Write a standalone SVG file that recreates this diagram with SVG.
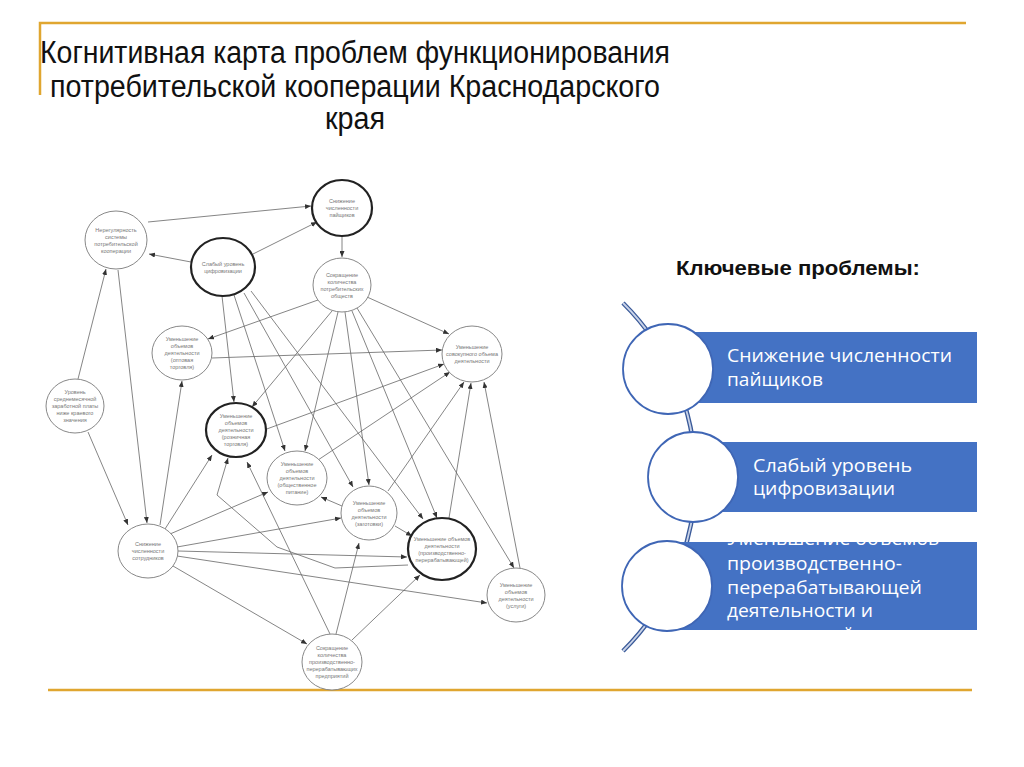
<svg xmlns="http://www.w3.org/2000/svg" width="1024" height="767" viewBox="0 0 1024 767">
<defs>
<marker id="ah" markerUnits="userSpaceOnUse" markerWidth="6" markerHeight="5" refX="6" refY="2.5" orient="auto">
<path d="M0,0 L6,2.5 L0,5 Z" fill="#333"/>
</marker>
<clipPath id="clip3"><rect x="667" y="542" width="310" height="88"/></clipPath>
</defs>
<style>
.nd{fill:#fff;stroke:#888;stroke-width:1}
.bd{fill:#fff;stroke:#222;stroke-width:2.2}
.nt{font-family:"Liberation Sans",Arial,sans-serif;font-size:5.5px;fill:#777;text-anchor:middle}
.ed{stroke:#666;stroke-width:0.8;fill:none;marker-end:url(#ah)}
.gold{stroke:#E0A630;stroke-width:2.5;fill:none}
.ttl{font-family:"Liberation Sans",Arial,sans-serif;font-size:31px;fill:#111}
.bx{fill:#4472C4}
.kc{fill:#fff;stroke:#3F66B5;stroke-width:1.8}
.kt{font-family:"Open Sans","Noto Sans",sans-serif;font-size:18px;fill:#fff}
</style>
<rect x="0" y="0" width="1024" height="767" fill="#fff"/>
<g id="frame">
<path class="gold" d="M40,95 L40,23 L966,23"/>
<path class="gold" d="M48,690 L972,690" stroke-width="2"/>
</g>
<g id="title">
<text class="ttl" x="40" y="63" textLength="630" lengthAdjust="spacingAndGlyphs">Когнитивная карта проблем функционирования</text>
<text class="ttl" x="50" y="97" textLength="610" lengthAdjust="spacingAndGlyphs">потребительской кооперации Краснодарского</text>
<text class="ttl" x="325" y="129" textLength="60" lengthAdjust="spacingAndGlyphs">края</text>
</g>
<g id="connectors">
<line class="ed" x1="148" y1="222" x2="311" y2="206"/>
<line class="ed" x1="191" y1="262" x2="149" y2="254"/>
<line class="ed" x1="253" y1="254" x2="317" y2="222"/>
<line class="ed" x1="342" y1="236" x2="342" y2="257"/>
<line class="ed" x1="78" y1="379" x2="106" y2="269"/>
<line class="ed" x1="118" y1="270" x2="147" y2="523"/>
<line class="ed" x1="88" y1="432" x2="128" y2="525"/>
<line class="ed" x1="222" y1="296" x2="234" y2="402"/>
<line class="ed" x1="234" y1="295" x2="285" y2="451"/>
<line class="ed" x1="244" y1="293" x2="353" y2="487"/>
<line class="ed" x1="251" y1="291" x2="423" y2="519"/>
<line class="ed" x1="318" y1="300" x2="208" y2="339"/>
<line class="ed" x1="367" y1="297" x2="449" y2="334"/>
<line class="ed" x1="332" y1="311" x2="252" y2="407"/>
<line class="ed" x1="338" y1="312" x2="305" y2="451"/>
<line class="ed" x1="345" y1="312" x2="369" y2="485"/>
<line class="ed" x1="352" y1="311" x2="437" y2="518"/>
<line class="ed" x1="357" y1="308" x2="514" y2="568"/>
<line class="ed" x1="212" y1="358" x2="442" y2="350"/>
<line class="ed" x1="264" y1="430" x2="444" y2="364"/>
<line class="ed" x1="318" y1="460" x2="450" y2="372"/>
<line class="ed" x1="388" y1="491" x2="464" y2="382"/>
<line class="ed" x1="449" y1="518" x2="471" y2="383"/>
<line class="ed" x1="520" y1="568" x2="484" y2="382"/>
<line class="ed" x1="160" y1="525" x2="182" y2="381"/>
<line class="ed" x1="165" y1="529" x2="212" y2="455"/>
<line class="ed" x1="170" y1="534" x2="268" y2="492"/>
<line class="ed" x1="177" y1="547" x2="341" y2="518"/>
<line class="ed" x1="178" y1="551" x2="407" y2="557"/>
<line class="ed" x1="177" y1="556" x2="487" y2="603"/>
<line class="ed" x1="173" y1="566" x2="307" y2="644"/>
<line class="ed" x1="330" y1="634" x2="247" y2="462"/>
<line class="ed" x1="336" y1="634" x2="359" y2="543"/>
<line class="ed" x1="352" y1="640" x2="420" y2="575"/>
<line class="ed" x1="342" y1="506" x2="321" y2="497"/>
<line class="ed" x1="395" y1="526" x2="412" y2="536"/>
<polyline class="ed" points="408,565 335,568 277,547 217,495 228,458"/>
</g>
<g id="n1"><ellipse class="nd" cx="116" cy="240" rx="31" ry="29"/><text class="nt"><tspan x="116" y="231.5">Нерегулярность</tspan><tspan x="116" y="238.5">системы</tspan><tspan x="116" y="245.5">потребительской</tspan><tspan x="116" y="252.5">кооперации</tspan></text></g>
<g id="n2"><ellipse class="bd" cx="342" cy="208" rx="30" ry="28"/><text class="nt"><tspan x="342" y="203">Снижение</tspan><tspan x="342" y="210">численности</tspan><tspan x="342" y="217">пайщиков</tspan></text></g>
<g id="n3"><ellipse class="bd" cx="223" cy="267" rx="32" ry="29"/><text class="nt"><tspan x="223" y="265.5">Слабый уровень</tspan><tspan x="223" y="272.5">цифровизации</tspan></text></g>
<g id="n4"><ellipse class="nd" cx="342" cy="285" rx="29" ry="27"/><text class="nt"><tspan x="342" y="276.5">Сокращение</tspan><tspan x="342" y="283.5">количества</tspan><tspan x="342" y="290.5">потребительских</tspan><tspan x="342" y="297.5">обществ</tspan></text></g>
<g id="n5"><ellipse class="nd" cx="472" cy="354" rx="30" ry="28"/><text class="nt"><tspan x="472" y="349">Уменьшение</tspan><tspan x="472" y="356">совокупного объема</tspan><tspan x="472" y="363">деятельности</tspan></text></g>
<g id="n6"><ellipse class="nd" cx="182" cy="353" rx="30" ry="27"/><text class="nt"><tspan x="182" y="341">Уменьшение</tspan><tspan x="182" y="348">объемов</tspan><tspan x="182" y="355">деятельности</tspan><tspan x="182" y="362">(оптовая</tspan><tspan x="182" y="369">торговля)</tspan></text></g>
<g id="n7"><ellipse class="nd" cx="75" cy="406" rx="29" ry="27"/><text class="nt"><tspan x="75" y="394">Уровень</tspan><tspan x="75" y="401">среднемесячной</tspan><tspan x="75" y="408">заработной платы</tspan><tspan x="75" y="415">ниже краевого</tspan><tspan x="75" y="422">значения</tspan></text></g>
<g id="n8"><ellipse class="bd" cx="236" cy="430" rx="30" ry="27"/><text class="nt"><tspan x="236" y="418">Уменьшение</tspan><tspan x="236" y="425">объемов</tspan><tspan x="236" y="432">деятельности</tspan><tspan x="236" y="439">(розничная</tspan><tspan x="236" y="446">торговля)</tspan></text></g>
<g id="n9"><ellipse class="nd" cx="297" cy="478" rx="30" ry="27"/><text class="nt"><tspan x="297" y="466">Уменьшение</tspan><tspan x="297" y="473">объемов</tspan><tspan x="297" y="480">деятельности</tspan><tspan x="297" y="487">(общественное</tspan><tspan x="297" y="494">питание)</tspan></text></g>
<g id="n10"><ellipse class="nd" cx="369" cy="513" rx="28" ry="27"/><text class="nt"><tspan x="369" y="504.5">Уменьшение</tspan><tspan x="369" y="511.5">объемов</tspan><tspan x="369" y="518.5">деятельности</tspan><tspan x="369" y="525.5">(заготовки)</tspan></text></g>
<g id="n11"><ellipse class="bd" cx="442" cy="549" rx="34" ry="31"/><text class="nt"><tspan x="442" y="540.5">Уменьшение объемов</tspan><tspan x="442" y="547.5">деятельности</tspan><tspan x="442" y="554.5">(производственно-</tspan><tspan x="442" y="561.5">перерабатывающей)</tspan></text></g>
<g id="n12"><ellipse class="nd" cx="516" cy="595" rx="29" ry="27"/><text class="nt"><tspan x="516" y="586.5">Уменьшение</tspan><tspan x="516" y="593.5">объемов</tspan><tspan x="516" y="600.5">деятельности</tspan><tspan x="516" y="607.5">(услуги)</tspan></text></g>
<g id="n13"><ellipse class="nd" cx="148" cy="551" rx="30" ry="27"/><text class="nt"><tspan x="148" y="546">Снижение</tspan><tspan x="148" y="553">численности</tspan><tspan x="148" y="560">сотрудников</tspan></text></g>
<g id="n14"><ellipse class="nd" cx="332" cy="662" rx="30" ry="28"/><text class="nt"><tspan x="332" y="650">Сокращение</tspan><tspan x="332" y="657">количества</tspan><tspan x="332" y="664">производственно-</tspan><tspan x="332" y="671">перерабатывающих</tspan><tspan x="332" y="678">предприятий</tspan></text></g>
<g id="key-heading">
<text x="676" y="275" font-family="Liberation Sans, Arial, sans-serif" font-size="20" font-weight="bold" fill="#111" textLength="244" lengthAdjust="spacingAndGlyphs">Ключевые проблемы:</text>
</g>
<g id="key-spine">
<path d="M623,303 A245,245 0 0 1 623,651" fill="none" stroke="#3A5A99" stroke-width="4.5"/>
<path d="M623,303 A245,245 0 0 1 623,651" fill="none" stroke="#C9D3E8" stroke-width="1.8"/>
</g>
<g id="key1">
<rect class="bx" x="668" y="332" width="309" height="71"/>
<circle class="kc" cx="668" cy="369" r="45"/>
<text class="kt" x="727" y="362" textLength="225" lengthAdjust="spacingAndGlyphs">Снижение численности</text>
<text class="kt" x="727" y="386" textLength="96" lengthAdjust="spacingAndGlyphs">пайщиков</text>
</g>
<g id="key2">
<rect class="bx" x="693" y="442" width="284" height="70"/>
<circle class="kc" cx="693" cy="477" r="45"/>
<text class="kt" x="753" y="472" textLength="159" lengthAdjust="spacingAndGlyphs">Слабый уровень</text>
<text class="kt" x="753" y="495" textLength="142" lengthAdjust="spacingAndGlyphs">цифровизации</text>
</g>
<g id="key3">
<rect class="bx" x="667" y="542" width="310" height="88"/>
<g clip-path="url(#clip3)">
<text class="kt" x="727" y="545" textLength="212" lengthAdjust="spacingAndGlyphs">Уменьшение объемов</text>
<text class="kt" x="727" y="570" textLength="175" lengthAdjust="spacingAndGlyphs">производственно-</text>
<text class="kt" x="727" y="594" textLength="195" lengthAdjust="spacingAndGlyphs">перерабатывающей</text>
<text class="kt" x="727" y="617" textLength="146" lengthAdjust="spacingAndGlyphs">деятельности и</text>
<text class="kt" x="727" y="641" textLength="126" lengthAdjust="spacingAndGlyphs">заготовительной</text>
</g>
<circle class="kc" cx="667" cy="586" r="45"/>
</g>
</svg>
